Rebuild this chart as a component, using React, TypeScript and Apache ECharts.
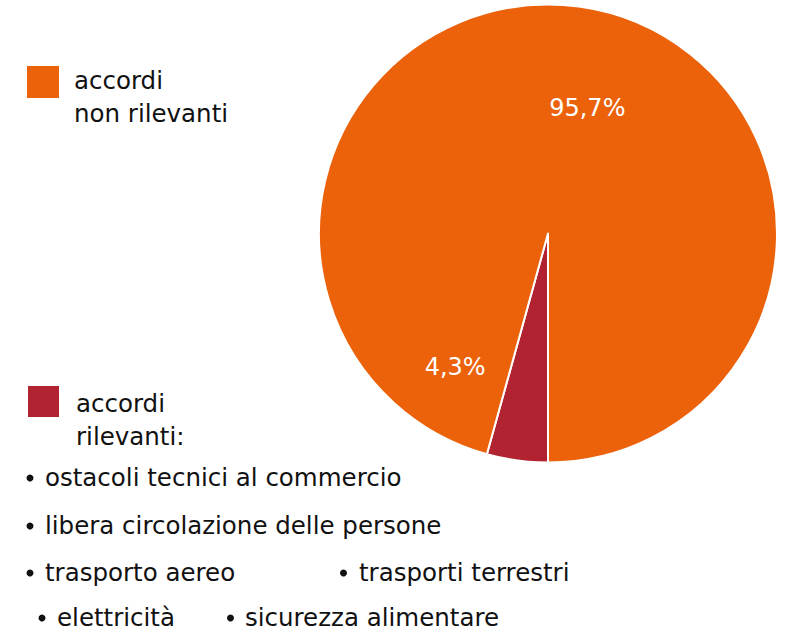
import React, { useEffect, useRef } from "react";
import * as echarts from "echarts";

const sliceNames = ["accordi\nrilevanti:", "accordi\nnon rilevanti"];
const sliceValues = [4.3, 95.7];
const sliceColors = ["#B22331", "#EB620B"];
const bulletLines = [
  ["ostacoli tecnici al commercio"],
  ["libera circolazione delle persone"],
  ["trasporto aereo", "trasporti terrestri"],
  ["elettricità", "sicurezza alimentare"],
];

const FONT = "'DejaVu Sans', sans-serif";

export default function App() {
  const ref = useRef<HTMLDivElement>(null);
  useEffect(() => {
    if (!ref.current) return;
    const chart = echarts.init(ref.current, undefined, { renderer: "svg" });
    // [bullet centre x, text x, baseline]
    const bulletPos = [
      [[30, 45, 484]],
      [[30, 45, 532]],
      [[30, 45, 579]],
      [[42, 57, 624]],
    ];
    const bulletPos2 = [[], [], [[343.5, 359, 579]], [[230.5, 245, 624]]];
    const central = 6.3;
    const graphics: any[] = [];
    bulletLines.forEach((line, i) => {
      const positions = [...bulletPos[i], ...bulletPos2[i]];
      line.forEach((t, j) => {
        const [bx, tx, base] = positions[j];
        graphics.push({
          type: "circle",
          shape: { cx: bx, cy: base - 6, r: 3.5 },
          style: { fill: "#111" },
        });
        graphics.push({
          type: "text",
          x: tx,
          y: base - central,
          style: {
            text: t,
            fill: "#111",
            font: `24.5px ${FONT}`,
            verticalAlign: "middle",
            align: "left",
          },
        });
      });
    });
    // legend blocks: [square x, square y, size, text x, first baseline]
    const legendPos = [
      [28, 386, 31, 76, 411],
      [27, 66, 32, 74, 88],
    ];
    sliceNames.forEach((name, i) => {
      const [sx, sy, sz, tx, base] = legendPos[i];
      graphics.push({
        type: "rect",
        shape: { x: sx, y: sy, width: sz, height: sz },
        style: { fill: sliceColors[i] },
      });
      name.split("\n").forEach((ln, k) => {
        graphics.push({
          type: "text",
          x: tx,
          y: base + k * 33 - central - 1,
          style: {
            text: ln,
            fill: "#111",
            font: `24.5px ${FONT}`,
            verticalAlign: "middle",
            align: "left",
          },
        });
      });
    });
    const labelOffsets = [
      [-77, 17.5],
      [23.5, -9],
    ];
    chart.setOption({
      animation: false,
      graphic: graphics,
      series: [
        {
          type: "pie",
          center: [548, 233.5],
          radius: [0, 229],
          startAngle: -90,
          clockwise: true,
          avoidLabelOverlap: false,
          itemStyle: { borderColor: "#fff", borderWidth: 2 },
          label: {
            show: true,
            position: "inside",
            color: "#fff",
            fontFamily: FONT,
            fontSize: 24,
            formatter: (p: any) => p.value.toFixed(1).replace(".", ",") + "%",
          },
          labelLine: { show: false },
          data: sliceValues.map((v, i) => ({
            name: sliceNames[i],
            value: v,
            itemStyle: { color: sliceColors[i] },
            label: { offset: labelOffsets[i] },
          })),
        },
      ],
    });
    return () => chart.dispose();
  }, []);
  return (
    <div
      ref={ref}
      style={{ position: "absolute", left: 0, top: 0, width: 800, height: 640 }}
    />
  );
}
